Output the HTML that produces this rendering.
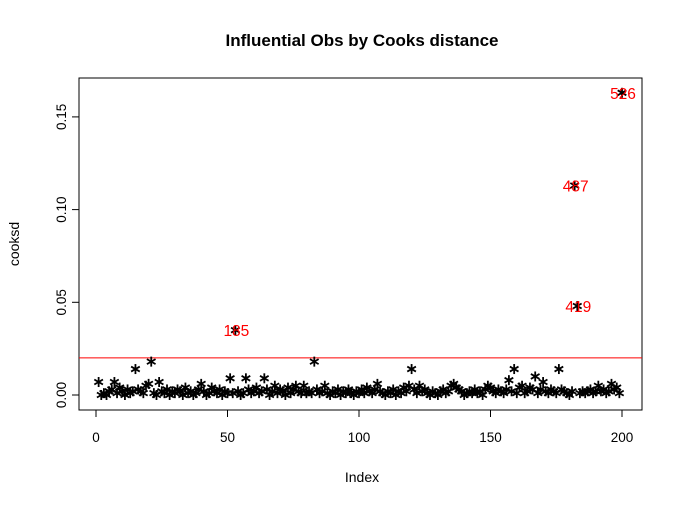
<!DOCTYPE html>
<html><head><meta charset="utf-8"><style>
body{margin:0;background:#fff}
svg{display:block;font-family:"Liberation Sans",Arial,sans-serif}
</style></head><body>
<svg id="chart" width="686" height="506" viewBox="0 0 686 506">
<rect width="686" height="506" fill="#fff"/>
<text x="362" y="46" text-anchor="middle" font-size="17" font-weight="bold">Influential Obs by Cooks distance</text>
<rect x="79" y="78" width="563" height="332" fill="none" stroke="#000" stroke-width="1"/>
<text x="362" y="482" text-anchor="middle" font-size="14">Index</text>
<text transform="translate(19,244) rotate(-90)" text-anchor="middle" font-size="14">cooksd</text>
<g id="axes"></g>
<g id="marks"></g>
</svg>
<script>
const cooksd=[
.007,0,.001,0,.002,.003,.007,.001,.004,.002,0,.003,.001,.002,.014,.003,.002,.001,.005,.006,
.018,.001,0,.007,.002,.001,.003,0,.002,.001,.003,.002,0,.004,.001,.002,0,.001,.003,.006,
.002,0,.001,.004,.002,.001,.003,0,.002,.001,.009,.001,.035,.002,0,.001,.009,.003,.001,.002,
.004,.001,.002,.009,.003,0,.002,.005,.001,.003,.002,0,.004,.001,.003,.005,.002,.001,.005,.001,
.002,.001,.018,.003,.001,.002,.005,.001,0,.002,.001,.003,0,.002,.001,.003,.001,0,.002,.001,
.003,.001,.004,.002,.001,.003,.006,.002,.001,0,.002,.001,.003,0,.002,.001,.004,.002,.005,.014,
.003,.001,.005,.002,.003,.001,0,.002,.001,0,.002,.003,.001,.002,.005,.006,.004,.003,.002,0,
.001,.002,.001,.003,.001,.002,0,.003,.005,.004,.002,.001,.003,.002,.001,.003,.008,.002,.014,.001,
.004,.005,.001,.002,.004,.003,.010,.001,.003,.007,.002,.001,.003,.002,.001,.014,.003,.002,.001,0,
.002,.113,.048,.001,.002,.001,.002,.003,.001,.002,.005,.002,.003,.001,.002,.006,.003,.004,.001,.163];
const labelIdx=[53,182,183,200];
const labelText=["185","487","419","526"];
const xTicks=[0,50,100,150,200];
const yTicks=[0,0.05,0.10,0.15];
const yTickLabels=["0.00","0.05","0.10","0.15"];
const cutoff=0.02;

const X=i=>96+i*2.63;
const Y=v=>395-v*1854;
const NS="http://www.w3.org/2000/svg";
const axes=document.getElementById('axes'),marks=document.getElementById('marks');
function mk(tag,attrs,parent){const e=document.createElementNS(NS,tag);for(const k in attrs)e.setAttribute(k,attrs[k]);parent.appendChild(e);return e;}

let xa=mk('line',{x1:X(0),x2:X(200),y1:410,y2:410,stroke:'#000'},axes);


xTicks.forEach(t=>{
  const l=mk('line',{x1:X(t),x2:X(t),y1:410,y2:417,stroke:'#000'},axes);
  
  
  const tx=mk('text',{x:X(t),y:442,'text-anchor':'middle','font-size':13.5},axes);
  tx.textContent=t;
  
  
});
let ya=mk('line',{x1:79,x2:79,y1:Y(0),y2:Y(0.15),stroke:'#000'},axes);


yTicks.forEach((t,i)=>{
  const l=mk('line',{x1:72,x2:79,y1:Y(t),y2:Y(t),stroke:'#000'},axes);
  
  
  const tx=mk('text',{transform:`translate(66,${Y(t)}) rotate(-90)`,'text-anchor':'middle','font-size':13.5},axes);
  tx.textContent=yTickLabels[i];
  
  
});
let cl=mk('line',{x1:79,x2:642,y1:Y(cutoff),y2:Y(cutoff),stroke:'#f00','stroke-width':1},marks);



cooksd.forEach((v,k)=>{
  const i=k+1,cx=X(i),cy=Y(v),r=5;
  const g=mk('g',{stroke:'#000','stroke-width':1.8},marks);
  
  
  [90,30,150].forEach(a=>{
    const rad=a*Math.PI/180,dx=r*Math.cos(rad),dy=r*Math.sin(rad);
    mk('line',{x1:cx-dx,y1:cy-dy,x2:cx+dx,y2:cy+dy},g);
  });
});
labelIdx.forEach((i,k)=>{
  const t=mk('text',{x:X(i)+1,y:Y(cooksd[i-1])+6,'text-anchor':'middle','font-size':15.5,fill:'#f00'},marks);
  t.textContent=labelText[k];
  
  
});
</script>
</body></html>
